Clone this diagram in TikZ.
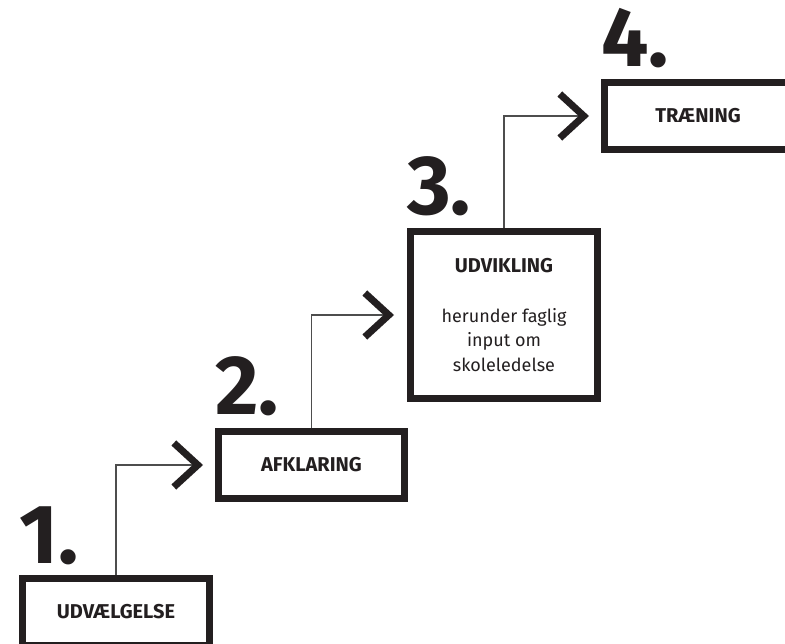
\documentclass[tikz,border=0pt]{standalone}
\usepackage{fontspec}
\setmainfont{Fira Sans}
\usepackage{tikz}
\usetikzlibrary{arrows.meta}
\definecolor{ink}{HTML}{231F20}
\definecolor{wire}{HTML}{4D4D4D}

\begin{document}
\begin{tikzpicture}[x=1pt,y=-1pt,
    stepbox/.style={draw=ink, line width=7pt, text=ink, align=center,
      minimum width=187pt, minimum height=67pt,
      font=\bfseries\fontsize{20}{24}\selectfont},
    num/.style={text=ink, inner sep=0pt, anchor=base west,
      font=\bfseries\fontsize{84}{84}\selectfont},
    link/.style={draw=wire, line width=1.2pt,
      -{Straight Barb[length=24pt,width=44pt,line width=7pt,color=ink]}}]
        \useasboundingbox (0,0) rectangle (785,644);
        \clip (0,0) rectangle (785,644);
        \node[stepbox] (udvaelgelse) at (116,612) {UDVÆLGELSE};
        \node[stepbox, minimum width=186pt] (afklaring) at (311.5,465) {AFKLARING};
        \node[stepbox, minimum height=167pt,
          font=\fontsize{18}{24.5}\selectfont] (udvikling) at (504,315)
          {{\bfseries\fontsize{20}{24}\selectfont UDVIKLING}\\[25.5pt] herunder faglig\\ input om\\ skoleledelse};
        \node[stepbox] (traening) at (698,116) {TRÆNING};
        \node[num] (one)   at ([yshift=12pt]udvaelgelse.north west) {1.};
        \node[num] (two)   at ([yshift=13pt]afklaring.north west) {2.};
        \node[num] (three) at ([yshift=13pt]udvikling.north west) {3.};
        \node[num] (four)  at ([yshift=12pt]traening.north west) {4.};
        \draw[link] (udvaelgelse.north) |- ([xshift=-12pt]afklaring.west);
        \draw[link] (afklaring.north) |- ([xshift=-13pt]udvikling.west);
        \draw[link] (udvikling.north) |- ([xshift=-12pt]traening.west);
      \end{tikzpicture}
\end{document}
